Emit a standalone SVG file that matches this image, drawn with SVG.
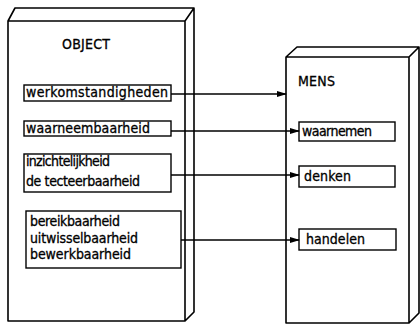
<svg xmlns="http://www.w3.org/2000/svg" width="420" height="324" viewBox="0 0 420 324">
<style>
.edge{fill:none;stroke:#000;stroke-width:1.6;stroke-linejoin:round}
.box{fill:#fff;stroke:#000;stroke-width:1.4}
.t{font-family:"DejaVu Sans Condensed","Liberation Sans Narrow","DejaVu Sans",sans-serif;font-size:14px;fill:#000;stroke:#000;stroke-width:0.3}
.c{fill:none;stroke:#000;stroke-width:1.5}
</style>
<defs>
<marker id="ah" markerWidth="10" markerHeight="8" refX="9" refY="4" orient="auto" markerUnits="userSpaceOnUse">
<path d="M0,1 L10,4 L0,7 Z" fill="#000"/>
</marker>
</defs>
<rect width="420" height="324" fill="#fff"/>
<g id="object">
<path class="edge" d="M8,21 L15,8 L194,8 L194,312 L185,321 L8,321 Z M8,21 L185,21 L194,8 M185,21 L185,321"/>
<text class="t" x="62" y="49" textLength="48">OBJECT</text>
</g>
<g id="werkomstandigheden">
<rect class="box" x="24" y="85" width="147" height="16"/>
<text class="t" x="26" y="97" textLength="142">werkomstandigheden</text>
</g>
<g id="waarneembaarheid">
<rect class="box" x="24" y="121" width="147" height="15"/>
<text class="t" x="26" y="133" textLength="124">waarneembaarheid</text>
</g>
<g id="inzichtelijkheid">
<rect class="box" x="24" y="154" width="147" height="38"/>
<text class="t" x="26" y="166" textLength="84">inzichtelijkheid</text>
<text class="t" x="26" y="186" textLength="114">de tecteerbaarheid</text>
</g>
<g id="bereikbaarheid">
<rect class="box" x="26" y="211" width="155" height="57"/>
<text class="t" x="30" y="226" textLength="90">bereikbaarheid</text>
<text class="t" x="30" y="243" textLength="108">uitwisselbaarheid</text>
<text class="t" x="30" y="259" textLength="101">bewerkbaarheid</text>
</g>
<g id="mens">
<path class="edge" d="M286,57 L297,47 L419,47 L419,313 L409,323 L286,323 Z M286,57 L409,57 L419,47 M409,57 L409,323"/>
<text class="t" x="298" y="86" textLength="37">MENS</text>
</g>
<g id="waarnemen">
<rect class="box" x="299" y="122" width="96" height="19"/>
<text class="t" x="302" y="136" textLength="70">waarnemen</text>
</g>
<g id="denken">
<rect class="box" x="299" y="166" width="96" height="21"/>
<text class="t" x="304" y="181" textLength="47">denken</text>
</g>
<g id="handelen">
<rect class="box" x="299" y="229" width="97" height="21"/>
<text class="t" x="306" y="244" textLength="59">handelen</text>
</g>
<g id="connectors">
<line class="c" x1="171" y1="94" x2="286" y2="94" marker-end="url(#ah)"/>
<line class="c" x1="171" y1="131" x2="299" y2="131" marker-end="url(#ah)"/>
<line class="c" x1="171" y1="175" x2="299" y2="175" marker-end="url(#ah)"/>
<line class="c" x1="181" y1="240" x2="299" y2="240" marker-end="url(#ah)"/>
</g>
</svg>
